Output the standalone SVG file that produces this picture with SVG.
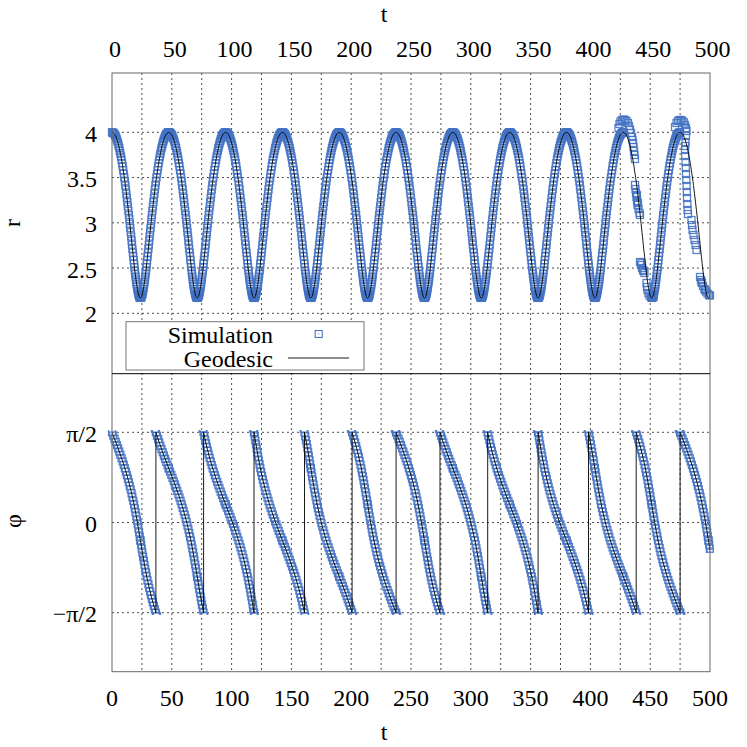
<svg xmlns="http://www.w3.org/2000/svg" xmlns:xlink="http://www.w3.org/1999/xlink" width="747" height="747" viewBox="0 0 747 747" font-family="'Liberation Serif', 'DejaVu Serif', serif">
<style>
.grid{fill:none;stroke:#000;stroke-opacity:.7;stroke-width:1;stroke-dasharray:2 3}
.sim{fill:none;stroke:none;marker-start:url(#sq);marker-mid:url(#sq);marker-end:url(#sq)}
.geo{fill:none;stroke:#000;stroke-width:.9}
text{font-family:'Liberation Serif','DejaVu Serif',serif;font-size:24px;fill:#000}
.tl{text-anchor:middle}
.yl{text-anchor:end}
</style>
<defs>
<marker id="sq" markerUnits="userSpaceOnUse" markerWidth="10" markerHeight="10" refX="5" refY="5" overflow="visible"><rect x="1.5" y="1.5" width="7" height="7" fill="none" stroke="#4472c4" stroke-width="1.25" stroke-opacity="0.9"/></marker>
<clipPath id="cr"><rect x="100" y="60" width="610" height="313"/></clipPath>
<clipPath id="cpl"><rect x="112" y="432.3" width="598" height="180.4"/></clipPath>
<clipPath id="cps"><rect x="100" y="430" width="604" height="185"/><rect x="703.9" y="430" width="10" height="123"/></clipPath>
<path id="rd" d="M112,132.3 L112.6,132.5 113.2,132.8 113.8,133.4 114.5,134.1 115.1,135.2 115.7,136.4 116.3,137.9 116.9,139.5 117.5,141.4 118.1,143.4 118.7,145.8 119.3,148.1 119.8,150.8 120.4,153.6 121,156.6 121.6,159.7 122.1,163.1 122.7,166.4 123.2,170.1 123.8,173.7 124.3,177.6 124.9,181.4 125.4,185.5 125.9,189.5 126.4,193.7 126.9,197.9 127.4,202.2 127.9,206.5 128.4,210.8 128.9,215.1 129.4,219.4 129.8,223.8 130.3,228 130.7,232.3 131.2,236.5 131.6,240.7 132,244.7 132.4,248.8 132.9,252.7 133.3,256.5 133.7,260.2 134.1,263.8 134.4,267.2 134.8,270.5 135.2,273.6 135.6,276.6 135.9,279.4 136.3,282.1 136.7,284.5 137,286.8 137.4,288.8 137.7,290.8 138.1,292.3 138.4,293.9 138.7,295 139.1,296.1 139.4,296.8 139.7,297.5 140.1,297.7 140.4,297.9"/>
<g id="rp"><use href="#rd"/><use href="#rd" transform="translate(280.81,0) scale(-1,1)"/></g>
<path id="pd" d="M112,432.3 L113.2,435.5 114.5,438.7 115.7,441.9 116.9,445.1 118.1,448.4 119.3,451.6 120.4,454.9 121.6,458.2 122.7,461.5 123.8,464.9 124.9,468.3 125.9,471.7 126.9,475.2 127.9,478.7 128.9,482.3 129.8,485.9 130.7,489.5 131.6,493.2 132.4,497 133.3,500.8 134.1,504.6 134.8,508.5 135.6,512.4 136.3,516.3 137,520.3 137.7,524.3 138.4,528.4 139.1,532.4 139.7,536.5 140.4,540.5"/>
<g id="pp"><use href="#pd"/><use href="#pd" transform="translate(280.81,1081.08) scale(-1,-1)"/></g>
<g id="pu">
<use href="#pp"/>
<use href="#pp" transform="translate(56.81,216.48)"/>
<use href="#pp" transform="translate(113.62,432.96)"/>
<use href="#pp" transform="translate(170.43,649.44)"/>
<use href="#pp" transform="translate(227.24,865.92)"/>
<use href="#pp" transform="translate(284.05,1082.4)"/>
<use href="#pp" transform="translate(340.86,1298.87)"/>
<use href="#pp" transform="translate(397.67,1515.35)"/>
<use href="#pp" transform="translate(454.48,1731.83)"/>
<use href="#pp" transform="translate(511.29,1948.31)"/>
<use href="#pp" transform="translate(568.11,2164.79)"/>
</g>
<g id="pw">
<use href="#pu"/>
<use href="#pu" transform="translate(0,-180.4)"/>
<use href="#pu" transform="translate(0,-360.8)"/>
<use href="#pu" transform="translate(0,-541.2)"/>
<use href="#pu" transform="translate(0,-721.6)"/>
<use href="#pu" transform="translate(0,-902)"/>
<use href="#pu" transform="translate(0,-1082.4)"/>
<use href="#pu" transform="translate(0,-1262.8)"/>
<use href="#pu" transform="translate(0,-1443.2)"/>
<use href="#pu" transform="translate(0,-1623.6)"/>
<use href="#pu" transform="translate(0,-1804)"/>
<use href="#pu" transform="translate(0,-1984.4)"/>
<use href="#pu" transform="translate(0,-2164.8)"/>
</g>
</defs>
<rect width="747" height="747" fill="#fff"/>
<g id="grid" class="grid">
<path d="M141.9,73V671.7M171.8,73V671.7M201.7,73V671.7M231.6,73V671.7M261.5,73V671.7M291.4,73V671.7M321.3,73V671.7M351.2,73V671.7M381.1,73V671.7M411,73V671.7M440.9,73V671.7M470.8,73V671.7M500.7,73V671.7M530.6,73V671.7M560.5,73V671.7M590.4,73V671.7M620.3,73V671.7M650.2,73V671.7M680.1,73V671.7"/>
<path d="M112,132.3H710M112,177.55H710M112,222.8H710M112,268.05H710M112,313.3H710M112,432.3H710M112,522.5H710M112,612.7H710"/>
</g>
<g id="sim-r" class="sim">
<use href="#rd"/>
<use href="#rd" transform="translate(56.81,0)"/>
<use href="#rd" transform="translate(113.62,0)"/>
<use href="#rd" transform="translate(170.43,0)"/>
<use href="#rd" transform="translate(227.24,0)"/>
<use href="#rd" transform="translate(284.05,0)"/>
<use href="#rd" transform="translate(340.86,0)"/>
<use href="#rd" transform="translate(397.67,0)"/>
<use href="#rd" transform="translate(454.48,0)"/>
<use href="#rd" transform="translate(280.81,0) scale(-1,1)"/>
<use href="#rd" transform="translate(337.62,0) scale(-1,1)"/>
<use href="#rd" transform="translate(394.43,0) scale(-1,1)"/>
<use href="#rd" transform="translate(451.24,0) scale(-1,1)"/>
<use href="#rd" transform="translate(508.05,0) scale(-1,1)"/>
<use href="#rd" transform="translate(564.86,0) scale(-1,1)"/>
<use href="#rd" transform="translate(621.67,0) scale(-1,1)"/>
<use href="#rd" transform="translate(678.48,0) scale(-1,1)"/>
<use href="#rd" transform="translate(735.29,0) scale(-1,1)"/>
<use href="#rd" transform="translate(792.1,0) scale(-1,1)"/>
<path d="M618.5,128 L619.5,124 620.5,121.5 622,120 623.5,119.5 625,120 626.5,121 628,123 629,126 630,129.5 631,133 632,137 632.5,140 633,143 633.5,147 634,151 634.5,155 635,159 635,185 635.5,189 636,193 636.5,197 637,201 637.5,205 638.5,209 639.5,213 640,215 637,195 638,203 640,262 641,265 642,268 643,270 644.5,273 641.5,263 643.5,271 646.5,283 647,287 647.5,290 648.5,293 649.5,295.5 651,297 652.5,297.5 653.5,297 675,127 676.5,123 678,121 679.5,120 681,120 682.5,121 684,122.5 685,125 686,128 686.5,131 686,136 685.5,142 685.2,146 685,150 685.2,156 685.5,162 685.8,168 686,174 686.3,180 686.6,186 686.8,192 687,198 687.3,204 687.6,210 688,214 691.5,220 692,225 692.5,230 693.5,235 694.5,240 695.5,245 696.5,250 700,277 701,280 701.5,282 702,283 703,286 704.5,289 705,290 706,291.5 707.5,293.5 709,295 710,295.5"/>
</g>
<g id="geo-r" class="geo" clip-path="url(#cr)">
<use href="#rp"/>
<use href="#rp" transform="translate(56.81,0)"/>
<use href="#rp" transform="translate(113.62,0)"/>
<use href="#rp" transform="translate(170.43,0)"/>
<use href="#rp" transform="translate(227.24,0)"/>
<use href="#rp" transform="translate(284.05,0)"/>
<use href="#rp" transform="translate(340.86,0)"/>
<use href="#rp" transform="translate(397.67,0)"/>
<use href="#rp" transform="translate(454.48,0)"/>
<use href="#rp" transform="translate(511.29,0)"/>
<use href="#rp" transform="translate(568.11,0)"/>
</g>
<g id="sim-phi" class="sim" clip-path="url(#cps)"><use href="#pw"/></g>
<g id="geo-phi" class="geo">
<g clip-path="url(#cpl)"><use href="#pw"/></g>
<path d="M155.9,432.3V612.7M203.6,432.3V612.7M254,432.3V612.7M304.5,432.3V612.7M352.1,432.3V612.7M396.1,432.3V612.7M440,432.3V612.7M487.7,432.3V612.7M538.1,432.3V612.7M588.5,432.3V612.7M636.2,432.3V612.7M680.1,432.3V612.7"/>
</g>
<g id="legend">
<rect x="126" y="321.7" width="238" height="48.3" fill="#fff" stroke="#777" stroke-width="1"/>
<text x="273" y="342.5" class="yl" font-family="'Liberation Serif', serif">Simulation</text>
<text x="273" y="366.5" class="yl" font-family="'Liberation Serif', serif">Geodesic</text>
<rect x="315.2" y="330.5" width="7" height="7" fill="none" stroke="#4472c4" stroke-width="1.1"/>
<rect x="318.2" y="333.5" width="1" height="1" fill="#4472c4"/>
<path d="M288,358H349" stroke="#000" stroke-width="0.9"/>
</g>
<g id="frame">
<rect x="112" y="73" width="598" height="598.7" fill="none" stroke="#666" stroke-width="1"/>
<path d="M112,373.7H710" stroke="#000" stroke-width="1"/>
</g>
<g id="labels" font-family="'Liberation Serif', serif" font-size="24">
<g class="tl">
<text x="115" y="57">0</text><text x="174.8" y="57">50</text><text x="234.6" y="57">100</text><text x="294.4" y="57">150</text><text x="354.2" y="57">200</text><text x="414" y="57">250</text><text x="473.8" y="57">300</text><text x="533.6" y="57">350</text><text x="593.4" y="57">400</text><text x="653.2" y="57">450</text><text x="712.5" y="57">500</text>
<text x="112" y="705.5">0</text><text x="171.8" y="705.5">50</text><text x="231.6" y="705.5">100</text><text x="291.4" y="705.5">150</text><text x="351.2" y="705.5">200</text><text x="411" y="705.5">250</text><text x="470.8" y="705.5">300</text><text x="530.6" y="705.5">350</text><text x="590.4" y="705.5">400</text><text x="650.2" y="705.5">450</text><text x="710" y="705.5">500</text>
<text x="384" y="22">t</text>
<text x="384" y="740">t</text>
</g>
<g class="yl">
<text x="97" y="141.8">4</text><text x="97" y="187">3.5</text><text x="97" y="232.3">3</text><text x="97" y="277.5">2.5</text><text x="97" y="322.3">2</text>
<text x="97" y="441.5">π/2</text><text x="97" y="531.5">0</text><text x="97" y="621.5">−π/2</text>
</g>
<text class="tl" transform="translate(20,223) rotate(-90)">r</text>
<text class="tl" transform="translate(21,521) rotate(-90)">φ</text>
</g>
</svg>
